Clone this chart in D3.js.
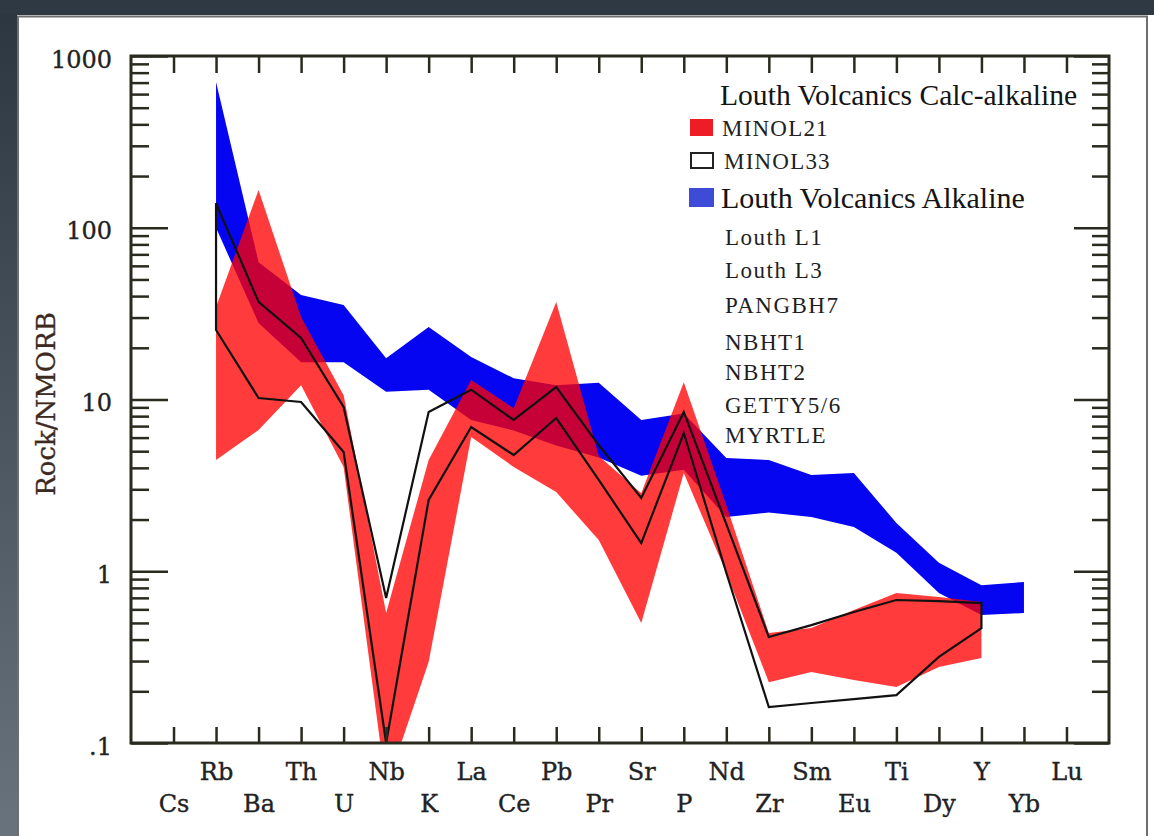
<!DOCTYPE html>
<meta charset="utf-8">
<script src="https://d3js.org/d3.v7.min.js"></script>
<style>
  html, body { margin: 0; padding: 0; background: #fff; overflow: hidden; }
  svg { display: block; position: absolute; left: 0; top: 0; }
</style>
<div id="chart"></div>
<script>
// elements along the x axis (N-MORB normalised multi-element plot)
var elements = ["Cs","Rb","Ba","Th","U","Nb","K","La","Ce","Pb","Pr","Sr","P","Nd","Zr","Sm","Eu","Ti","Dy","Y","Yb","Lu"];

// Louth Volcanics Alkaline field (blue), Rb..Yb
var alkalineElements = ["Rb","Ba","Th","U","Nb","K","La","Ce","Pb","Pr","Sr","P","Nd","Zr","Sm","Eu","Ti","Dy","Y","Yb"];
var alkalineHigh = [706, 63, 40.6, 35.5, 17.4, 26.4, 17.7, 13.3, 12.1, 12.5, 7.6, 8.3, 4.56, 4.44, 3.63, 3.73, 1.91, 1.12, 0.83, 0.866];
var alkalineLow  = [100, 27.9, 16.5, 16.5, 11.1, 11.4, 7.6, 6.6, 5.4, 4.6, 3.6, 3.9, 2.07, 2.2, 2.07, 1.81, 1.28, 0.747, 0.556, 0.571];

// Calc-alkaline samples, Rb..Y
var calcElements = ["Rb","Ba","Th","U","Nb","K","La","Ce","Pb","Pr","Sr","P","Nd","Zr","Sm","Eu","Ti","Dy","Y"];
// MINOL21 field (red)
var minol21High = [34.6, 166, 30.2, 10.6, 0.571, 4.44, 13.0, 8.9, 37.0, 4.69, 2.85, 12.6, 2.43, 0.437, 0.467, 0.595, 0.747, 0.708, 0.662];
var minol21Low  = [4.44, 6.64, 12.1, 4.05, 0.055, 0.296, 6.05, 4.05, 2.89, 1.52, 0.50, 3.73, 0.98, 0.226, 0.259, 0.233, 0.212, 0.277, 0.313];
// MINOL33 field (black outline)
var minol33High = [139, 37.0, 22.8, 9.04, 0.699, 8.46, 11.4, 7.6, 11.8, 5.43, 2.67, 8.46, 1.88, 0.414, 0.486, 0.579, 0.68, 0.67, 0.653];
var minol33Low  = [25.4, 10.2, 9.67, 4.95, 0.1, 2.60, 6.92, 4.75, 7.80, 3.40, 1.46, 6.38, 0.98, 0.162, 0.171, 0.180, 0.19, 0.317, 0.467];

var yTicks = [0.1, 1, 10, 100, 1000];
var yTickLabels = [".1", "1", "10", "100", "1000"];
var legendSamples = ["Louth L1", "Louth L3", "PANGBH7", "NBHT1", "NBHT2", "GETTY5/6", "MYRTLE"];

var W = 1154, H = 836;
var svg = d3.select("#chart").append("svg").attr("width", W).attr("height", H);

// page frame around the figure
var defs = svg.append("defs");
var grad = defs.append("linearGradient").attr("id", "side")
    .attr("x1", 0).attr("y1", 0).attr("x2", 0).attr("y2", 1);
grad.append("stop").attr("offset", "0%").attr("stop-color", "#2d3741");
grad.append("stop").attr("offset", "100%").attr("stop-color", "#68737d");
svg.append("rect").attr("width", W).attr("height", H).attr("fill", "#fff");
svg.append("rect").attr("width", W).attr("height", 15).attr("fill", "#2f3943");
svg.append("rect").attr("y", 15).attr("width", 17).attr("height", H - 15).attr("fill", "url(#side)");
svg.append("path").attr("d", "M18,836V16.5H1147V836")
    .attr("fill", "none").attr("stroke", "#6e6e6e").attr("stroke-width", 2);

// plot area
var pLeft = 131, pRight = 1109, pTop = 56, pBottom = 743;
var x = d3.scalePoint().domain(elements).range([pLeft, pRight]).padding(1);
var y = d3.scaleLog().domain([0.1, 1000]).range([pBottom, pTop]);

defs.append("clipPath").attr("id", "plotclip")
    .append("rect").attr("x", pLeft).attr("y", pTop).attr("width", pRight - pLeft).attr("height", pBottom - pTop);

function band(els, hi, lo) {
    var pts = els.map(function(e, i) { return [x(e), y(hi[i])]; })
        .concat(els.map(function(e, i) { return [x(e), y(lo[i])]; }).reverse());
    return d3.line()(pts) + "Z";
}

var plot = svg.append("g").attr("clip-path", "url(#plotclip)");

plot.append("path")
    .attr("d", band(alkalineElements, alkalineHigh, alkalineLow))
    .attr("fill", "#0505f2");

plot.append("path")
    .attr("d", band(calcElements, minol21High, minol21Low))
    .attr("fill", "rgb(255,0,0)")
    .attr("fill-opacity", 0.77);

plot.append("path")
    .attr("d", band(calcElements, minol33High, minol33Low))
    .attr("fill", "none")
    .attr("stroke", "#111")
    .attr("stroke-width", 2.2)
    .attr("stroke-linejoin", "miter");

// axes
var axisColor = "#2a2a1f";
var tickFont = "'DejaVu Serif', serif";
var minorTicks = y.ticks().filter(function(d) { return yTicks.indexOf(d) < 0; });

function styleTicks(g) {
    g.select(".domain").remove();
    g.selectAll("line").attr("stroke", axisColor).attr("stroke-width", 2.5);
}

function styleLabels(sel) {
    sel.attr("font-family", tickFont)
        .attr("font-size", 24)
        .attr("fill", "#222")
        .attr("stroke", "#222")
        .attr("stroke-width", 0.35);
}

var gB = svg.append("g")
    .attr("transform", "translate(0," + pBottom + ")")
    .call(d3.axisBottom(x).tickSizeInner(-16).tickSizeOuter(0).tickPadding(0));
styleTicks(gB);
gB.selectAll("text")
    .attr("y", function(d, i) { return i % 2 === 0 ? 69 : 37; })
    .attr("dy", 0)
    .call(styleLabels);

var gT = svg.append("g")
    .attr("transform", "translate(0," + pTop + ")")
    .call(d3.axisTop(x).tickSizeInner(-17).tickSizeOuter(0).tickFormat(""));
styleTicks(gT);

var gL = svg.append("g")
    .attr("transform", "translate(" + pLeft + ",0)")
    .call(d3.axisLeft(y).tickValues(yTicks).tickSizeInner(-37).tickSizeOuter(0).tickPadding(19)
        .tickFormat(function(d, i) { return yTickLabels[i]; }));
styleTicks(gL);
gL.selectAll("text")
    .attr("dy", "0.46em")
    .call(styleLabels);

var gLm = svg.append("g")
    .attr("transform", "translate(" + pLeft + ",0)")
    .call(d3.axisLeft(y).tickValues(minorTicks).tickSizeInner(-18).tickSizeOuter(0).tickFormat(""));
styleTicks(gLm);

var gR = svg.append("g")
    .attr("transform", "translate(" + pRight + ",0)")
    .call(d3.axisRight(y).tickValues(yTicks).tickSizeInner(-35).tickSizeOuter(0).tickFormat(""));
styleTicks(gR);

var gRm = svg.append("g")
    .attr("transform", "translate(" + pRight + ",0)")
    .call(d3.axisRight(y).tickValues(minorTicks).tickSizeInner(-17).tickSizeOuter(0).tickFormat(""));
styleTicks(gRm);

svg.append("rect")
    .attr("x", pLeft).attr("y", pTop)
    .attr("width", pRight - pLeft).attr("height", pBottom - pTop)
    .attr("fill", "none").attr("stroke", axisColor).attr("stroke-width", 3);

// y axis title
svg.append("text")
    .attr("transform", "translate(55,404) rotate(-90)")
    .attr("text-anchor", "middle")
    .attr("font-family", tickFont)
    .attr("font-size", 26)
    .attr("fill", "#3d2a1f")
    .attr("stroke", "#3d2a1f")
    .attr("stroke-width", 0.35)
    .text("Rock/NMORB");

// legend
var legFont = "'Liberation Serif', 'Times New Roman', serif";
var leg = svg.append("g").attr("font-family", legFont).attr("fill", "#141414");

leg.append("text").attr("x", 720).attr("y", 105).attr("font-size", 29.6)
    .text("Louth Volcanics Calc-alkaline");

leg.append("rect").attr("x", 690).attr("y", 119).attr("width", 23).attr("height", 17).attr("fill", "#ee1c24");
leg.append("text").attr("x", 722).attr("y", 136).attr("font-size", 23).attr("letter-spacing", 1.2)
    .attr("fill", "#222").text("MINOL21");

leg.append("rect").attr("x", 691).attr("y", 153).attr("width", 22).attr("height", 15)
    .attr("fill", "#fff").attr("stroke", "#222").attr("stroke-width", 2);
leg.append("text").attr("x", 724).attr("y", 169).attr("font-size", 23).attr("letter-spacing", 1.2)
    .attr("fill", "#222").text("MINOL33");

leg.append("rect").attr("x", 689).attr("y", 188).attr("width", 25).attr("height", 19).attr("fill", "#3d4bd6");
leg.append("text").attr("x", 721).attr("y", 208).attr("font-size", 30)
    .text("Louth Volcanics Alkaline");

var sampleY = [245, 278, 313, 350, 380, 413, 443];
leg.selectAll("text.sample")
    .data(legendSamples)
    .enter()
    .append("text")
    .attr("class", "sample")
    .attr("x", 725)
    .attr("y", function(d, i) { return sampleY[i]; })
    .attr("font-size", 23)
    .attr("letter-spacing", 1.5)
    .attr("fill", "#1e1e1e")
    .text(function(d) { return d; });
</script>
